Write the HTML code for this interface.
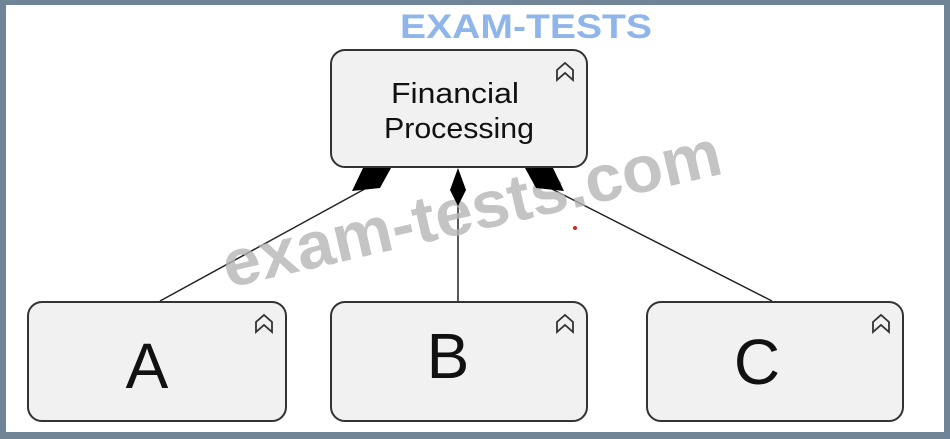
<!DOCTYPE html>
<html><head><style>
html,body{margin:0;padding:0;}
body{width:950px;height:439px;background:#6f8497;position:relative;overflow:hidden;font-family:"Liberation Sans",sans-serif;}
#c{position:absolute;left:6px;top:5px;width:938px;height:427px;background:#fff;}
</style></head><body>
<div id="c"></div>
<svg width="950" height="439" style="position:absolute;left:0;top:0">
<text x="400" y="38" font-family="Liberation Sans" font-weight="bold" font-size="34" fill="#8fb5ea" textLength="252" lengthAdjust="spacingAndGlyphs">EXAM-TESTS</text>
<line x1="410" y1="2" x2="396" y2="48" stroke="#7a9fd6" stroke-width="0"/>
<g stroke="#222" stroke-width="1.5">
<line x1="372" y1="185" x2="160" y2="301"/>
<line x1="458" y1="200" x2="458" y2="301"/>
<line x1="544" y1="185" x2="772" y2="301"/>
</g>
<text x="228" y="288" font-family="Liberation Sans" font-weight="bold" font-size="66" fill="#b5b5b5" fill-opacity="0.8" transform="rotate(-13 228 288)" textLength="510" lengthAdjust="spacingAndGlyphs">exam-tests.com</text>
<g fill="#f1f1f1" stroke="#333" stroke-width="2">
<rect x="331" y="50" width="256" height="117" rx="14"/>
<rect x="28" y="302" width="258" height="119" rx="14"/>
<rect x="331" y="302" width="256" height="119" rx="14"/>
<rect x="647" y="302" width="256" height="119" rx="14"/>
</g>
<g fill="#000">
<polygon points="363,168 391,168 380,188 352,191"/>
<polygon points="525,168 553,168 564,191 536,188"/>
<polygon points="458,168 466,190 458,206 450,190"/>
</g>
<g fill="none" stroke="#333" stroke-width="1.8">
<path d="M557,80 V70 L565,63 L573,70 V80 L565,73 Z"/>
<path d="M256,332 V322 L264,315 L272,322 V332 L264,325 Z"/>
<path d="M557,332 V322 L565,315 L573,322 V332 L565,325 Z"/>
<path d="M873,332 V322 L881,315 L889,322 V332 L881,325 Z"/>
</g>
<g font-family="Liberation Sans" fill="#111" text-anchor="middle">
<text x="455" y="103" font-size="29" textLength="128" lengthAdjust="spacingAndGlyphs">Financial</text>
<text x="459" y="138" font-size="29" textLength="150" lengthAdjust="spacingAndGlyphs">Processing</text>
<text x="147" y="388" font-size="64">A</text>
<text x="448" y="378" font-size="64">B</text>
<text x="757" y="384" font-size="64">C</text>
</g>
<circle cx="575" cy="228" r="2" fill="#d22"/>
</svg>
</body></html>
